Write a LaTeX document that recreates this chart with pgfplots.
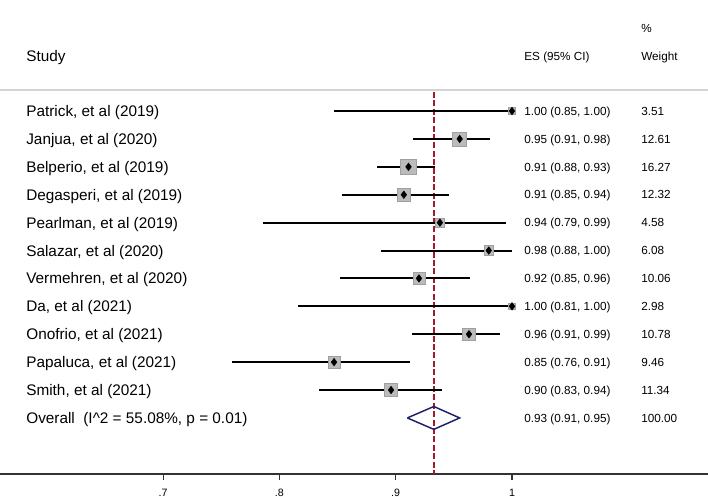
\documentclass[border=0pt]{standalone}
\usepackage{pgfplots}
\pgfplotsset{compat=1.18}
\usepackage{pgfplotstable}
\usepackage{fontspec}
\setmainfont{Liberation Sans}
\definecolor{refline}{HTML}{A3182B}
\definecolor{navy}{HTML}{1F1F6E}
\definecolor{boxgray}{HTML}{BBBBBB}
\definecolor{sepgray}{HTML}{D4D4D4}
\newcommand{\stf}{\fontsize{11.5}{13}\selectfont}
\newcommand{\cfn}{\fontsize{8.8}{10}\selectfont}
\tikzset{
  lab/.style={anchor=west, inner sep=0pt, font=\stf, text height=8.23pt, text depth=0pt},
  col/.style={anchor=west, inner sep=0pt, font=\cfn, text height=6.3pt, text depth=0pt},
}
% row  es  lo  hi  weight
\pgfplotstableread{
row es lo hi w
1 1.000 0.847 1.000 3.51
2 0.955 0.915 0.981 12.61
3 0.911 0.884 0.934 16.27
4 0.907 0.854 0.946 12.32
5 0.938 0.786 0.995 4.58
6 0.980 0.887 1.000 6.08
7 0.920 0.852 0.964 10.06
8 1.000 0.816 1.000 2.98
9 0.963 0.914 0.990 10.78
10 0.847 0.759 0.912 9.46
11 0.896 0.834 0.940 11.34
}\studies
\begin{document}
\begin{tikzpicture}
\begin{axis}[
  scale only axis, width=531pt, height=355.5pt,
  xmin=0.5598, xmax=1.1685, ymin=-14.01, ymax=2.98,
  axis x line*=bottom, axis y line=none,
  x axis line style={line width=0.8pt, black!80},
  xtick={0.7,0.8,0.9,1}, xticklabels={.7,.8,.9,1},
  tick align=outside, major tick length=4.5pt,
  tick style={line width=0.8pt, black!80},
  /pgf/number format/assume math mode=true,
  xticklabel style={font=\fontsize{8}{9}\selectfont, inner sep=1pt, yshift=-5.5pt},
  clip=false,
]
% separator and reference line
\draw[sepgray, line width=1.5pt] (axis cs:0.5598,-0.244) -- (axis cs:1.1685,-0.244);
\addplot[refline, line width=1pt, dash pattern=on 4.5pt off 1.8pt] coordinates {(0.9328,-0.32) (0.9328,-14.01)};
% weight boxes
\addplot[scatter, only marks, mark=square*,
  scatter/use mapped color={draw=boxgray!85!black, fill=boxgray},
  visualization depends on={1.4625*sqrt(\thisrow{w}) \as \wsz},
  scatter/@pre marker code/.append style={/tikz/mark size=\wsz}]
  table[x=es, y expr=-\thisrow{row}] {\studies};
% confidence intervals
\addplot[draw=none, mark=none,
  error bars/.cd, x dir=both, x explicit, error mark=none,
  error bar style={draw=black, line width=1.5pt}]
  table[x=es, y expr=-\thisrow{row},
        x error plus expr=\thisrow{hi}-\thisrow{es},
        x error minus expr=\thisrow{es}-\thisrow{lo}] {\studies};
% point estimates
\addplot[only marks, mark=diamond*, mark size=2.8pt, black]
  table[x=es, y expr=-\thisrow{row}] {\studies};
% overall diamond
\addplot[navy, line width=1.1pt] coordinates {(0.910,-12) (0.9328,-11.59) (0.955,-12) (0.9328,-12.41) (0.910,-12)};
% text columns
\node[lab] at (axis cs:0.5822,0.97) {Study};
\node[col] at (axis cs:1.0104,0.97) {ES (95\% CI)};
\node[col] at (axis cs:1.1109,0.97) {Weight};
\node[col] at (axis cs:1.1109,1.975) {\%};
\node[lab] at (axis cs:0.5822,-1) {Patrick, et al (2019)};
\node[lab] at (axis cs:0.5822,-2) {Janjua, et al (2020)};
\node[lab] at (axis cs:0.5822,-3) {Belperio, et al (2019)};
\node[lab] at (axis cs:0.5822,-4) {Degasperi, et al (2019)};
\node[lab] at (axis cs:0.5822,-5) {Pearlman, et al (2019)};
\node[lab] at (axis cs:0.5822,-6) {Salazar, et al (2020)};
\node[lab] at (axis cs:0.5822,-7) {Vermehren, et al (2020)};
\node[lab] at (axis cs:0.5822,-8) {Da, et al (2021)};
\node[lab] at (axis cs:0.5822,-9) {Onofrio, et al (2021)};
\node[lab] at (axis cs:0.5822,-10) {Papaluca, et al (2021)};
\node[lab] at (axis cs:0.5822,-11) {Smith, et al (2021)};
\node[lab] at (axis cs:0.5822,-12) {Overall\ \ (I\^{}2 = 55.08\%, p = 0.01)};
\node[col] at (axis cs:1.0104,-1) {1.00 (0.85, 1.00)};
\node[col] at (axis cs:1.0104,-2) {0.95 (0.91, 0.98)};
\node[col] at (axis cs:1.0104,-3) {0.91 (0.88, 0.93)};
\node[col] at (axis cs:1.0104,-4) {0.91 (0.85, 0.94)};
\node[col] at (axis cs:1.0104,-5) {0.94 (0.79, 0.99)};
\node[col] at (axis cs:1.0104,-6) {0.98 (0.88, 1.00)};
\node[col] at (axis cs:1.0104,-7) {0.92 (0.85, 0.96)};
\node[col] at (axis cs:1.0104,-8) {1.00 (0.81, 1.00)};
\node[col] at (axis cs:1.0104,-9) {0.96 (0.91, 0.99)};
\node[col] at (axis cs:1.0104,-10) {0.85 (0.76, 0.91)};
\node[col] at (axis cs:1.0104,-11) {0.90 (0.83, 0.94)};
\node[col] at (axis cs:1.0104,-12) {0.93 (0.91, 0.95)};
\node[col] at (axis cs:1.1109,-1) {3.51};
\node[col] at (axis cs:1.1109,-2) {12.61};
\node[col] at (axis cs:1.1109,-3) {16.27};
\node[col] at (axis cs:1.1109,-4) {12.32};
\node[col] at (axis cs:1.1109,-5) {4.58};
\node[col] at (axis cs:1.1109,-6) {6.08};
\node[col] at (axis cs:1.1109,-7) {10.06};
\node[col] at (axis cs:1.1109,-8) {2.98};
\node[col] at (axis cs:1.1109,-9) {10.78};
\node[col] at (axis cs:1.1109,-10) {9.46};
\node[col] at (axis cs:1.1109,-11) {11.34};
\node[col] at (axis cs:1.1109,-12) {100.00};
\end{axis}
\pgfresetboundingbox
\useasboundingbox (0,-17.25pt) rectangle (531pt,355.5pt);
\end{tikzpicture}
\end{document}
